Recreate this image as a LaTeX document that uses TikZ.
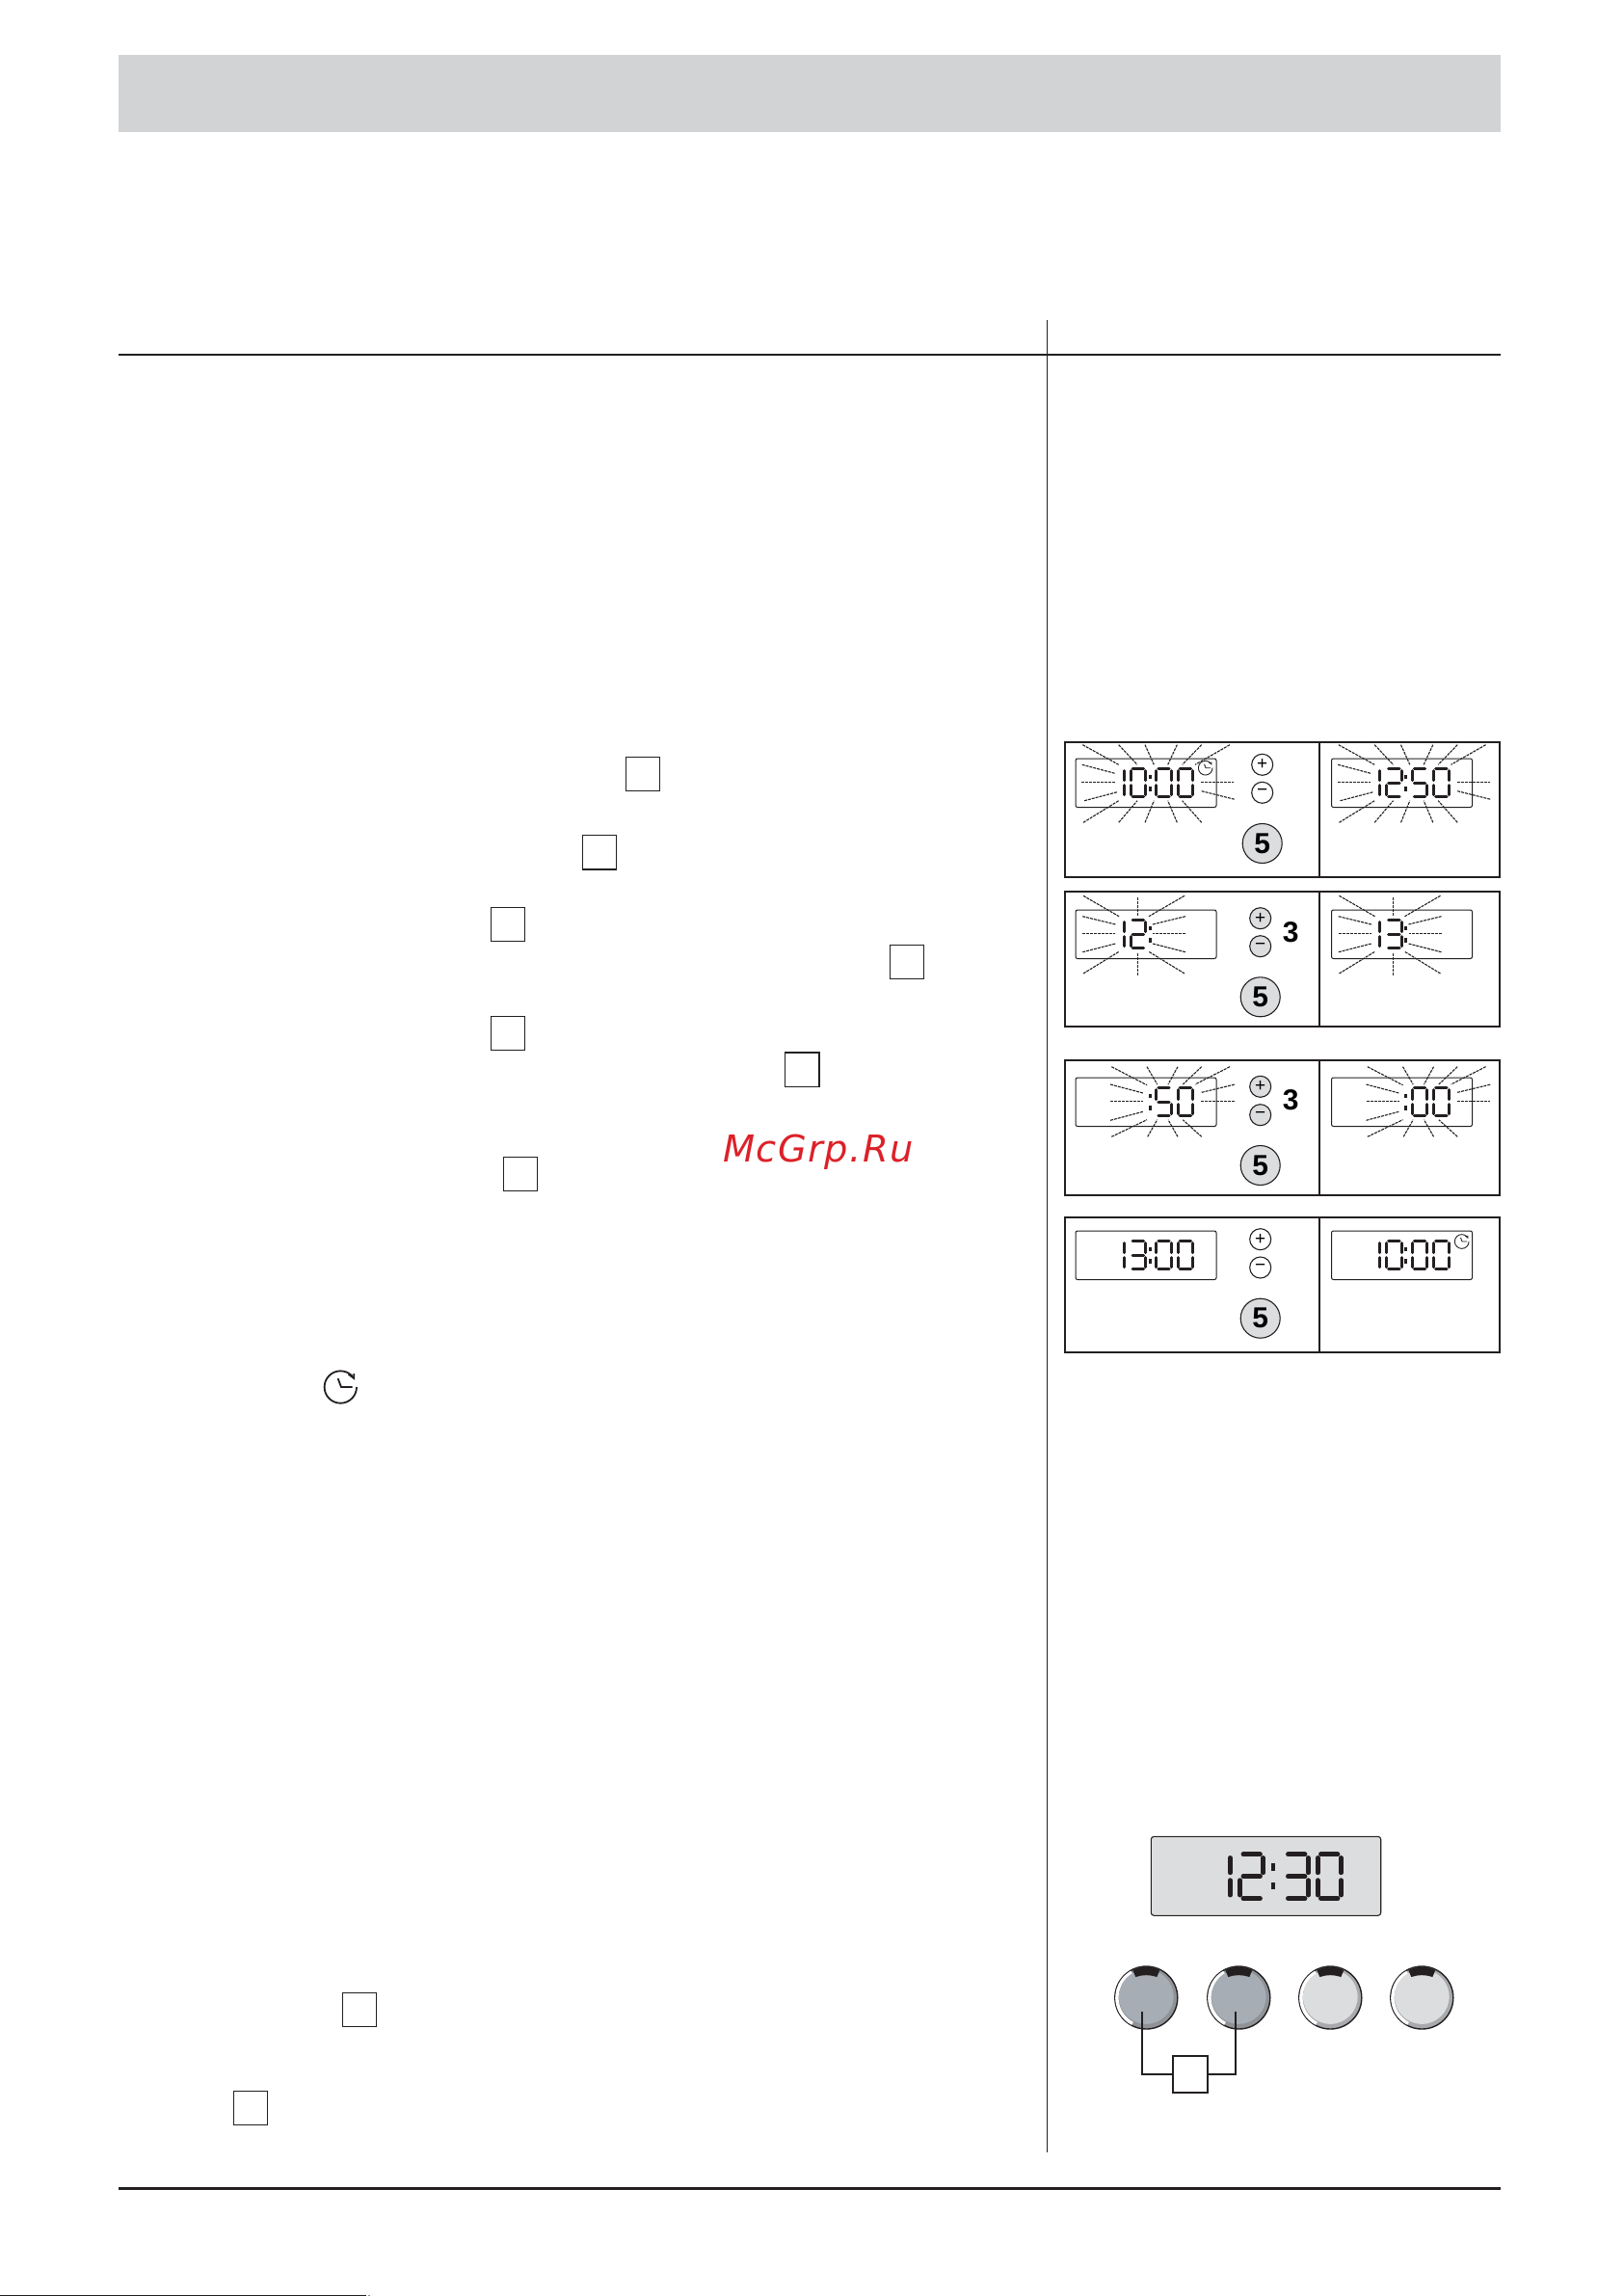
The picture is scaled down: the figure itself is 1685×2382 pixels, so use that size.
\documentclass[tikz,border=0pt]{standalone}
\usepackage{fontspec}
\setmainfont{Liberation Sans}
\newfontfamily\markfont[LetterSpace=3.8]{DejaVu Sans}
\definecolor{inkdark}{HTML}{231F20}
\definecolor{bandgrey}{HTML}{D1D3D4}
\definecolor{keygrey}{HTML}{DCDDDE}
\definecolor{knobgrey}{HTML}{A7ADB4}
\definecolor{rimdark}{HTML}{8F9296}
\definecolor{rimlight}{HTML}{A8AAAD}
\definecolor{markred}{HTML}{DC2128}
\tikzset{
    rule/.style={line width=2.2, draw=inkdark},
    panel/.style={line width=1.7, draw=inkdark},
    lcdbox/.style={line width=1, draw=inkdark, rounded corners=2},
    flash/.style={line width=1.1, draw=inkdark, dash pattern=on 3 off 1},
    lcdseg/.style={draw=inkdark, line cap=round},
    refbox/.style={draw=inkdark, line width=1.1, minimum size=35, inner sep=0},
    smallkey/.style={circle, draw=inkdark, line width=1.1, minimum size=22, inner sep=0, font=\fontsize{19}{19}\selectfont},
    fivekey/.style={circle, draw=inkdark, line width=1.1, fill=keygrey, minimum size=41, inner sep=0, font=\fontsize{30}{30}\selectfont\bfseries},
    keynum/.style={inner sep=0, font=\fontsize{30}{30}\selectfont\bfseries},
    knob/.style={circle, draw=inkdark, line width=1.4, minimum size=65, inner sep=0},
    leader/.style={line width=1.4, draw=inkdark}
}
\newcommand{\sega}{\draw[lcdseg] (3.5,1.4) -- (14.8,1.4);}
\newcommand{\segb}{\draw[lcdseg] (16.9,3.7) -- (16.9,13.6);}
\newcommand{\segc}{\draw[lcdseg] (16.9,18.7) -- (16.9,28.6);}
\newcommand{\segd}{\draw[lcdseg] (3.5,30.9) -- (14.8,30.9);}
\newcommand{\sege}{\draw[lcdseg] (1.4,18.7) -- (1.4,28.6);}
\newcommand{\segf}{\draw[lcdseg] (1.4,3.7) -- (1.4,13.6);}
\newcommand{\segg}{\draw[lcdseg] (3.5,16.15) -- (14.8,16.15);}
\newcommand{\lcdnum}[4][1]{
    \begin{scope}[shift={(#2,#3)}, scale=#1, line width=3.1*#1]
        \ifcase#4 \sega\segb\segc\segd\sege\segf
        \or \segb\segc
        \or \sega\segb\segg\sege\segd
        \or \sega\segb\segg\segc\segd
        \or \segf\segg\segb\segc
        \or \sega\segf\segg\segc\segd
        \fi
    \end{scope}
}
\newcommand{\lcdcolon}[3][1]{
    \begin{scope}[shift={(#2,#3)}, scale=#1]
        \fill[inkdark] (-1.4,7.5) rectangle (1.4,12.4);
        \fill[inkdark] (-1.4,20) rectangle (1.4,24.7);
    \end{scope}
}
\newcommand{\clockicon}[4][1.8]{
    \begin{scope}[shift={(#2,#3)}, scale=#4]
        \draw[draw=inkdark, line width=#1] (16.7,0) arc (0:318:16.7);
        \draw[draw=inkdark, line width=#1] (8.3,-13.3) -- (14,-9) -- (14,-14);
        \draw[draw=inkdark, line width=#1] (-2.7,-9) -- (0.7,0) -- (12.3,0);
    \end{scope}
}
\newcommand{\lcdframe}[1]{
    \draw[panel] (0,0) rectangle (451,140);
    \draw[panel] (264,0) -- (264,140);
    \draw[lcdbox] (11,#1) rectangle ++(146,50.5);
    \draw[lcdbox] (276.5,#1) rectangle ++(146,50.5);
}
\newcommand{\knobface}[2]{
    \begin{scope}[shift={(#1)}]
        \draw[white, line width=3.4] (-120:30.4) arc (-120:-242:30.4);
        \fill[#2] (0,-1) circle (28.3);
        \fill[inkdark] (-14,-28.5) .. controls (-5,-33) and (5,-33) .. (14,-28.5) -- (11,-21.5)
            .. controls (4,-24) and (-4,-24) .. (-11,-21.5) -- cycle;
    \end{scope}
}
\def\raysone{18.3/2.7/55.7/23.3, 55.7/2.7/75/23.3, 83/2.7/92.3/23.3, 116.3/2.7/106.7/23.3,
    141.7/2.7/121.7/23.3, 171/2.7/135/23.3, 17.7/23.3/51.7/32.3, 17.3/41.7/51.7/41.7,
    20/60.7/54.3/51.7, 19/83.3/55.7/60.7, 55.7/83.3/75/60.7, 83/83.3/92.3/60.7,
    116.3/83.3/106.7/60.7, 141.7/83.3/121.7/60.7, 141/41.7/175/41.7, 141.7/50.7/176/59.3}
\def\raystwo{19/4.3/56/25.7, 75.3/5.7/75.3/25.7, 124/4.3/87/25.7, 18.3/25.7/52.3/34,
    18.3/43.3/52.3/43.3, 18.3/62.7/52.3/54, 19/85/56/62.3, 75.3/64.3/75.3/86.7,
    124/85/87/62.3, 125/25.7/91/34, 125/43.3/91/43.3, 125/62.7/91/54}
\def\raysthree{48.3/6.7/85/25.7, 85/6.7/95.7/25, 117/6.7/107/25, 141.7/6.7/122.3/25,
    171/6.7/135/25, 47/25/81/34, 47/42.7/81/42.7, 47/62.3/81/53.3, 48.3/79.3/85/61.7,
    85.7/79.3/95.7/61.7, 117/79.3/107/61.7, 141.7/79.3/122.3/61.7, 141.7/33.3/176.3/25,
    141/42.7/175.7/42.7}
\begin{document}
\begin{tikzpicture}[x=1pt, y=-1pt]
    \useasboundingbox (0,0) rectangle (1685,2382);
    \fill[bandgrey] (123,57) rectangle (1557,137);
    \draw[rule] (123,368) -- (1557,368);
    \draw[rule, line width=3.2] (123,2270.3) -- (1557,2270.3);
    \draw[draw=inkdark, line width=1.1] (1086.5,332) -- (1086.5,2233);
    \draw[draw=inkdark, line width=1] (0,2381.5) -- (380,2381.5);
    \fill[inkdark] (383,2381.5) circle (0.6);

    \node[refbox] (refa) at (667,803) {};
    \node[refbox] (refb) at (622,884.3) {};
    \node[refbox] (refc) at (527,959) {};
    \node[refbox] (refd) at (941,998) {};
    \node[refbox] (refe) at (527,1072) {};
    \node[refbox] (reff) at (832.3,1109.7) {};
    \node[refbox] (refg) at (540,1218) {};
    \node[refbox] (refh) at (373,2085) {};
    \node[refbox] (refi) at (260,2187) {};
    \draw[draw=inkdark, line width=2] (refb.south west) -- (refb.south east);
    \draw[draw=inkdark, line width=2] (reff.north west) -- (reff.north east) -- (reff.south east);
    \clockicon{353.3}{1439}{1}
    \node[text=markred, anchor=base west, inner sep=0, font=\markfont\itshape\fontsize{38.4}{38.4}\selectfont] (mark) at (750,1205) {McGrp.Ru};

    \begin{scope}[shift={(1105,770)}]
        \lcdframe{17}
        \foreach \xa/\ya/\xb/\yb in \raysone {
            \draw[flash] (\xa,\ya) -- (\xb,\yb);
            \draw[flash] (\xa+265.5,\ya) -- (\xb+265.5,\yb);
        }
        \lcdnum{44.4}{26}{1} \lcdnum{66.7}{26}{0} \lcdcolon{88.3}{26} \lcdnum{93.3}{26}{0} \lcdnum{115.7}{26}{0}
        \clockicon[0.9]{145.7}{26.7}{0.44}
        \begin{scope}[shift={(265.5,0)}]
            \lcdnum{44.4}{26}{1} \lcdnum{66.7}{26}{2} \lcdcolon{88.3}{26} \lcdnum{93.3}{26}{5} \lcdnum{115.7}{26}{0}
        \end{scope}
        \node[smallkey] (plusa) at (204.7,23.3) {+};
        \node[smallkey] (minusa) at (204.7,52.3) {−};
        \node[fivekey] (fivea) at (204.7,105) {5};
    \end{scope}

    \begin{scope}[shift={(1105,925)}]
        \lcdframe{19}
        \foreach \xa/\ya/\xb/\yb in \raystwo {
            \draw[flash] (\xa,\ya) -- (\xb,\yb);
            \draw[flash] (\xa+265.5,\ya) -- (\xb+265.5,\yb);
        }
        \lcdnum{44.4}{28}{1} \lcdnum{66.7}{28}{2} \lcdcolon{88.3}{28}
        \begin{scope}[shift={(265.5,0)}]
            \lcdnum{44.4}{28}{1} \lcdnum{66.7}{28}{3} \lcdcolon{88.3}{28}
        \end{scope}
        \node[smallkey, fill=keygrey] (plusb) at (202.7,27.7) {+};
        \node[smallkey, fill=keygrey] (minusb) at (202.7,56.7) {−};
        \node[keynum] (threeb) at (234.3,41.7) {3};
        \node[fivekey] (fiveb) at (202.7,109.3) {5};
    \end{scope}

    \begin{scope}[shift={(1105,1100)}]
        \lcdframe{18}
        \foreach \xa/\ya/\xb/\yb in \raysthree {
            \draw[flash] (\xa,\ya) -- (\xb,\yb);
            \draw[flash] (\xa+265.5,\ya) -- (\xb+265.5,\yb);
        }
        \lcdcolon{88.3}{27} \lcdnum{93.3}{27}{5} \lcdnum{115.7}{27}{0}
        \begin{scope}[shift={(265.5,0)}]
            \lcdcolon{88.3}{27} \lcdnum{93.3}{27}{0} \lcdnum{115.7}{27}{0}
        \end{scope}
        \node[smallkey, fill=keygrey] (plusc) at (202.7,27.3) {+};
        \node[smallkey, fill=keygrey] (minusc) at (202.7,56.7) {−};
        \node[keynum] (threec) at (234.3,40.7) {3};
        \node[fivekey] (fivec) at (202.7,109) {5};
    \end{scope}

    \begin{scope}[shift={(1105,1263)}]
        \lcdframe{14}
        \lcdnum{44.4}{23}{1} \lcdnum{66.7}{23}{3} \lcdcolon{88.3}{23} \lcdnum{93.3}{23}{0} \lcdnum{115.7}{23}{0}
        \begin{scope}[shift={(265.5,0)}]
            \lcdnum{44.4}{23}{1} \lcdnum{66.7}{23}{0} \lcdcolon{88.3}{23} \lcdnum{93.3}{23}{0} \lcdnum{115.7}{23}{0}
            \clockicon[0.9]{146.2}{25}{0.44}
        \end{scope}
        \node[smallkey] (plusd) at (202.7,22.7) {+};
        \node[smallkey] (minusd) at (202.7,52) {−};
        \node[fivekey] (fived) at (202.7,104.7) {5};
    \end{scope}

    \draw[line width=1.1, draw=inkdark, fill=keygrey, rounded corners=3] (1194.3,1905.3) rectangle (1432.7,1987.3);
    \lcdnum[1.55]{1250}{1921.7}{1} \lcdnum[1.55]{1284.5}{1921.7}{2} \lcdcolon[1.55]{1321}{1921.7}
    \lcdnum[1.55]{1331}{1921.7}{3} \lcdnum[1.55]{1365}{1921.7}{0}

    \node[knob, fill=rimdark] (knoba) at (1189.3,2072.5) {};
    \node[knob, fill=rimdark] (knobb) at (1285.3,2072.5) {};
    \node[knob, fill=rimlight] (knobc) at (1380.3,2072.5) {};
    \node[knob, fill=rimlight] (knobd) at (1475.3,2072.5) {};
    \knobface{knoba}{knobgrey}
    \knobface{knobb}{knobgrey}
    \knobface{knobc}{keygrey}
    \knobface{knobd}{keygrey}
    \coordinate (enda) at (1185,2087.3);
    \coordinate (endb) at (1282,2087.3);
    \node[draw=inkdark, line width=1.5, minimum width=36, minimum height=38, inner sep=0] (keybox) at (1235,2152) {};
    \draw[leader] (keybox.west) -| (enda);
    \draw[leader] (keybox.east) -| (endb);
\end{tikzpicture}
\end{document}
